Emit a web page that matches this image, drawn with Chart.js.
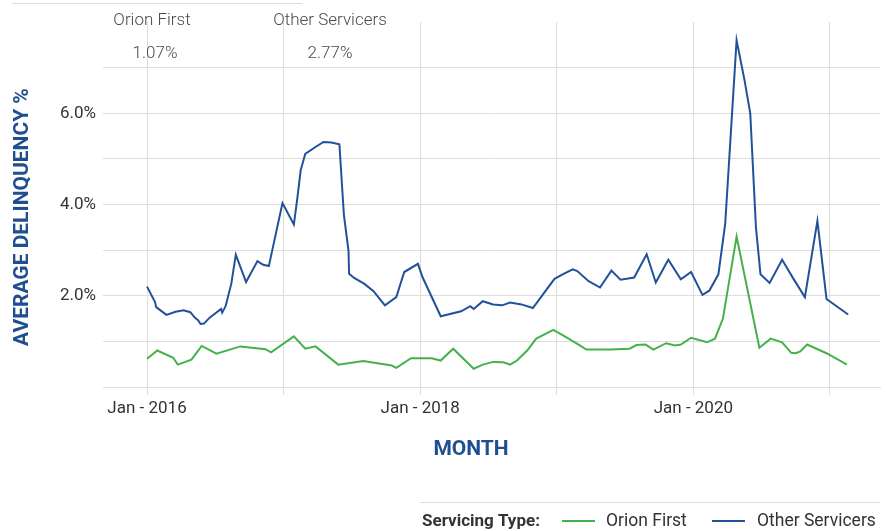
<!DOCTYPE html>
<html>
<head>
<meta charset="utf-8">
<script src="https://cdn.jsdelivr.net/npm/chart.js@4/dist/chart.umd.min.js"></script>
<style>
  html, body { margin: 0; padding: 0; background: #ffffff; }
  #wrap { position: relative; width: 889px; height: 531px; }
</style>
</head>
<body>
<div id="wrap"><canvas id="c" width="889" height="531"></canvas></div>
<script>
// Months since Jan 2016 and average delinquency (%)
const otherMonths = [0,0.7,0.8,1.7,2.5,3.2,3.8,4.2,4.5,4.7,5.0,5.5,6.5,6.6,6.9,7.4,7.8,8.7,9.7,10.2,10.7,11.9,12.9,13.2,13.5,13.9,14.8,15.5,16.2,16.9,17.3,17.7,17.75,18.2,19.1,19.9,20.9,21.9,22.6,23.8,24.2,25.8,27.6,28.4,28.7,29.5,30.4,31.2,31.9,32.9,33.9,35.8,36.6,37.4,37.8,38.8,39.8,40.8,41.6,42.8,43.9,44.7,45.8,46.9,47.8,48.8,49.4,50.2,50.8,51.8,52.5,53.0,53.5,53.9,54.7,55.8,56.8,57.8,58.9,59.7,61.6];
const otherValues = [2.20,1.86,1.75,1.58,1.65,1.68,1.64,1.52,1.46,1.38,1.39,1.52,1.71,1.63,1.77,2.26,2.90,2.30,2.76,2.68,2.65,4.03,3.56,4.13,4.75,5.11,5.26,5.37,5.36,5.32,3.76,2.99,2.48,2.39,2.26,2.10,1.79,1.97,2.52,2.70,2.41,1.55,1.66,1.77,1.71,1.88,1.81,1.79,1.85,1.81,1.73,2.37,2.48,2.58,2.54,2.32,2.18,2.55,2.35,2.40,2.91,2.29,2.79,2.36,2.52,2.02,2.11,2.47,3.58,7.60,6.72,6.00,3.50,2.47,2.28,2.79,2.37,1.97,3.64,1.93,1.59];

const orionMonths = [0,0.9,2.3,2.7,3.9,4.8,6.1,8.2,10.4,10.9,12.9,13.9,14.8,16.8,19.0,21.5,21.9,23.2,25.0,25.8,26.9,28.7,29.5,30.4,31.3,31.9,32.5,33.4,34.2,35.7,36.7,37.7,38.6,40.7,42.4,43.0,43.8,44.5,45.6,46.4,46.9,47.8,49.2,49.9,50.6,51.8,53.8,54.8,55.8,56.6,57.0,57.4,58.0,59.7,61.5];
const orionValues = [0.62,0.80,0.64,0.49,0.60,0.90,0.73,0.89,0.83,0.76,1.11,0.84,0.89,0.49,0.57,0.47,0.42,0.63,0.63,0.58,0.84,0.40,0.49,0.55,0.54,0.49,0.58,0.80,1.06,1.25,1.11,0.96,0.82,0.82,0.84,0.92,0.93,0.82,0.96,0.91,0.93,1.08,0.98,1.06,1.50,3.30,0.86,1.06,0.98,0.75,0.74,0.78,0.93,0.74,0.49];

const seriesNames = ['Orion First', 'Other Servicers'];
const seriesAverages = ['1.07%', '2.77%'];
const tickLabels = {0: 'Jan - 2016', 24: 'Jan - 2018', 48: 'Jan - 2020'};

const BLUE = '#22519b';
const GREEN = '#45b14b';
const TITLE_BLUE = '#1f4e91';

const toXY = (xs, ys) => xs.map((x, i) => ({x: x, y: ys[i]}));

const overlay = {
  id: 'overlay',
  afterDraw(chart) {
    const ctx = chart.ctx;
    ctx.save();
    // top thin line
    ctx.strokeStyle = '#dddddd';
    ctx.lineWidth = 1;
    ctx.beginPath(); ctx.moveTo(12, 3.5); ctx.lineTo(302, 3.5); ctx.stroke();

    // annotations
    ctx.fillStyle = '#4a4a4a';
    ctx.font = '300 17px Roboto';
    ctx.textAlign = 'center';
    ctx.textBaseline = 'middle';
    ctx.fillText(seriesNames[0], 152, 21);
    ctx.fillText(seriesAverages[0], 155, 54);
    ctx.fillText(seriesNames[1], 330, 21);
    ctx.fillText(seriesAverages[1], 330, 54);

    // axis titles
    ctx.fillStyle = TITLE_BLUE;
    ctx.font = 'bold 21px Roboto';
    ctx.fillText('MONTH', 471, 450);
    ctx.save();
    ctx.translate(23, 217);
    ctx.rotate(-Math.PI / 2);
    ctx.fillText('AVERAGE DELINQUENCY %', 0, 0);
    ctx.restore();

    // legend
    ctx.strokeStyle = '#dddddd';
    ctx.lineWidth = 1;
    ctx.beginPath(); ctx.moveTo(420, 502.5); ctx.lineTo(880, 502.5); ctx.stroke();
    ctx.textAlign = 'left';
    ctx.fillStyle = '#333333';
    ctx.font = 'bold 17px Roboto';
    ctx.fillText('Servicing Type:', 422, 522);
    ctx.font = '17.5px Roboto';
    ctx.lineWidth = 2;
    ctx.strokeStyle = GREEN;
    ctx.beginPath(); ctx.moveTo(562, 521); ctx.lineTo(595, 521); ctx.stroke();
    ctx.fillText(seriesNames[0], 606, 522);
    ctx.strokeStyle = BLUE;
    ctx.beginPath(); ctx.moveTo(712, 521); ctx.lineTo(745, 521); ctx.stroke();
    ctx.fillText(seriesNames[1], 757, 522);
    ctx.restore();
  }
};

new Chart(document.getElementById('c'), {
  type: 'line',
  data: {
    datasets: [
      { label: seriesNames[0], data: toXY(orionMonths, orionValues), borderColor: GREEN, borderWidth: 2, pointRadius: 0, tension: 0, fill: false },
      { label: seriesNames[1], data: toXY(otherMonths, otherValues), borderColor: BLUE, borderWidth: 2, pointRadius: 0, tension: 0, fill: false }
    ]
  },
  options: {
    responsive: false,
    animation: false,
    layout: { padding: { top: 22, right: 9, left: 0, bottom: 0 } },
    plugins: { legend: { display: false }, tooltip: { enabled: false } },
    scales: {
      x: {
        type: 'linear',
        min: -3.87,
        max: 64.4,
        afterFit: (s) => { s.height = 144; },
        grid: { color: '#dddddd', tickLength: 8, drawTicks: true },
        border: { display: true, color: '#dddddd' },
        ticks: {
          stepSize: 12,
          includeBounds: false,
          autoSkip: false,
          maxRotation: 0,
          padding: 4,
          color: '#333333',
          font: { family: 'Roboto', size: 17 },
          callback: (v) => tickLabels[v] || ''
        }
      },
      y: {
        min: 0,
        max: 8,
        afterFit: (s) => { s.width = 103; },
        grid: {
          drawTicks: false,
          color: (c) => (c.tick && c.tick.value === 8) ? 'rgba(0,0,0,0)' : '#dddddd'
        },
        border: { display: false },
        ticks: {
          stepSize: 1,
          padding: 7,
          color: '#333333',
          font: { family: 'Roboto', size: 17 },
          callback: (v) => (v > 0 && v % 2 === 0 && v < 8) ? v.toFixed(1) + '%' : ''
        }
      }
    }
  },
  plugins: [overlay]
});
</script>
</body>
</html>
